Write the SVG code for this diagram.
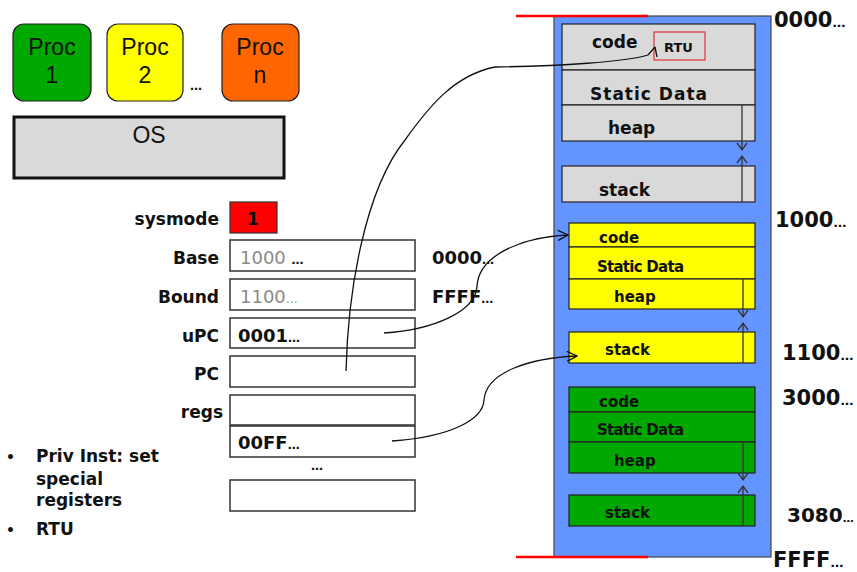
<svg xmlns="http://www.w3.org/2000/svg" width="857" height="572" viewBox="0 0 857 572">
  <defs>
    <style>
      .proc { stroke: #222; stroke-width: 1.2; }
      .ptxt { font-family: "Liberation Sans", Arial, sans-serif; font-size: 23px; fill: #111; text-anchor: middle; }
      .b { font-family: "DejaVu Sans", "Liberation Sans", sans-serif; font-weight: bold; fill: #111; }
      .lbl { font-size: 17px; text-anchor: end; }
      .reg { fill: #fff; stroke: #333; stroke-width: 1.5; }
      .seg { stroke: #222; stroke-width: 1.2; }
      .grey { fill: #d9d9d9; }
      .yel { fill: #ffff00; }
      .grn { fill: #00a800; }
      .addr { font-size: 21px; }
      .conn { fill: none; stroke: #111; stroke-width: 1.3; }
      .grow { stroke: #333; stroke-width: 1.3; fill: none; }
      .mtxt { font-size: 15px; }
      .stxt { font-size: 13px; }
      .dim { font-family: "DejaVu Sans", "Liberation Sans", sans-serif; font-size: 18px; fill: #8a8a8a; }
    </style>
    <marker id="open" viewBox="0 0 12 12" refX="11" refY="6" markerWidth="12" markerHeight="12" markerUnits="userSpaceOnUse" orient="auto">
      <polyline points="1,1 11,6 1,11" fill="none" stroke="#111" stroke-width="1.3"/>
    </marker>
  </defs>

  <rect width="857" height="572" fill="#fff"/>

  <!-- processes -->
  <g id="proc1">
    <rect class="proc" x="13" y="24" width="78" height="77" rx="11" fill="#00a800"/>
    <text class="ptxt" x="52" y="55">Proc</text>
    <text class="ptxt" x="52" y="83">1</text>
  </g>
  <g id="proc2">
    <rect class="proc" x="107" y="24" width="76" height="77" rx="11" fill="#ffff00"/>
    <text class="ptxt" x="145" y="55">Proc</text>
    <text class="ptxt" x="145" y="83">2</text>
  </g>
  <text class="b" x="190" y="90" font-size="12">…</text>
  <g id="procn">
    <rect class="proc" x="222" y="24" width="77" height="77" rx="11" fill="#ff6600"/>
    <text class="ptxt" x="260" y="55">Proc</text>
    <text class="ptxt" x="260" y="83">n</text>
  </g>
  <g id="os">
    <rect x="14" y="117" width="270" height="61" fill="#d9d9d9" stroke="#111" stroke-width="3"/>
    <text class="ptxt" x="149" y="143">OS</text>
  </g>

  <!-- special registers -->
  <g id="sysmode">
    <text class="b lbl" x="219" y="225">sysmode</text>
    <rect x="230" y="202" width="47" height="31" fill="#ff0000" stroke="#333" stroke-width="1.2"/>
    <text class="b" x="253" y="225" font-size="17" text-anchor="middle">1</text>
  </g>
  <g id="base">
    <text class="b lbl" x="219" y="264">Base</text>
    <rect class="reg" x="230" y="240" width="185" height="31"/>
    <text class="dim" x="240" y="264">1000 <tspan class="b" font-size="12">…</tspan></text>
    <text class="b" x="432" y="264" font-size="18">0000<tspan font-size="12">…</tspan></text>
  </g>
  <g id="bound">
    <text class="b lbl" x="219" y="303">Bound</text>
    <rect class="reg" x="230" y="279" width="185" height="31"/>
    <text class="dim" x="240" y="303">1100<tspan font-size="12">…</tspan></text>
    <text class="b" x="432" y="303" font-size="18">FFFF<tspan font-size="12">…</tspan></text>
  </g>
  <g id="upc">
    <text class="b lbl" x="219" y="342">uPC</text>
    <rect class="reg" x="230" y="318" width="185" height="30"/>
    <text class="b" x="238" y="342" font-size="18">0001<tspan font-size="12">…</tspan></text>
  </g>
  <g id="pc">
    <text class="b lbl" x="219" y="380">PC</text>
    <rect class="reg" x="230" y="356" width="185" height="31"/>
  </g>
  <g id="regs">
    <text class="b lbl" x="223" y="418">regs</text>
    <rect class="reg" x="230" y="395" width="185" height="30"/>
    <rect class="reg" x="230" y="426" width="185" height="31"/>
    <text class="b" x="238" y="449" font-size="18">00FF<tspan font-size="12">…</tspan></text>
    <text class="b" x="311" y="470" font-size="12">…</text>
    <rect class="reg" x="230" y="480" width="185" height="31"/>
  </g>

  <!-- notes -->
  <g id="notes">
    <text class="b" x="6" y="462" font-size="14">•</text>
    <text class="b" x="36" y="462" font-size="17">Priv Inst: set</text>
    <text class="b" x="36" y="485" font-size="17">special</text>
    <text class="b" x="36" y="506" font-size="17">registers</text>
    <text class="b" x="6" y="535" font-size="14">•</text>
    <text class="b" x="36" y="535" font-size="17">RTU</text>
  </g>

  <!-- physical memory -->
  <g id="memory">
    <rect x="554" y="16" width="217" height="541" fill="#6394ff" stroke="#444" stroke-width="1.2"/>
    <line x1="516" y1="16" x2="648" y2="16" stroke="#ff0000" stroke-width="2.5"/>
    <line x1="516" y1="557" x2="648" y2="557" stroke="#ff0000" stroke-width="2.5"/>
    <text class="b addr" x="774" y="27">0000<tspan font-size="13">…</tspan></text>
    <text class="b addr" x="775" y="227">1000<tspan font-size="13">…</tspan></text>
    <text class="b addr" x="782" y="360">1100<tspan font-size="13">…</tspan></text>
    <text class="b addr" x="782" y="405">3000<tspan font-size="13">…</tspan></text>
    <text class="b" x="787" y="522" font-size="20">3080<tspan font-size="11">…</tspan></text>
    <text class="b addr" x="773" y="567">FFFF<tspan font-size="13">…</tspan></text>
  </g>

  <!-- OS segments -->
  <g id="os-image">
    <rect class="seg grey" x="562" y="24" width="193" height="46"/>
    <rect class="seg grey" x="562" y="70" width="193" height="35"/>
    <rect class="seg grey" x="562" y="105" width="193" height="36"/>
    <rect class="seg grey" x="562" y="166" width="193" height="36"/>
    <text class="b" x="592" y="48" font-size="17">code</text>
    <rect x="654" y="32" width="51" height="28" fill="#d9d9d9" stroke="#e03030" stroke-width="1.2"/>
    <text class="b stxt" x="664" y="52">RTU</text>
    <text class="b" x="590" y="100" font-size="17" textLength="117">Static Data</text>
    <text class="b" x="608" y="134" font-size="17">heap</text>
    <text class="b" x="599" y="196" font-size="17">stack</text>
    <path class="grow" d="M742,105 V150 M737,143 L742,150 L747,143"/>
    <path class="grow" d="M742,202 V156 M737,163 L742,156 L747,163"/>
  </g>

  <!-- process 2 segments -->
  <g id="proc2-image">
    <rect class="seg yel" x="569" y="223" width="186" height="24"/>
    <rect class="seg yel" x="569" y="247" width="186" height="32"/>
    <rect class="seg yel" x="569" y="279" width="186" height="30"/>
    <rect class="seg yel" x="569" y="332" width="186" height="31"/>
    <text class="b mtxt" x="599" y="243">code</text>
    <text class="b mtxt" x="597" y="272" textLength="87">Static Data</text>
    <text class="b mtxt" x="614" y="302">heap</text>
    <text class="b mtxt" x="605" y="355">stack</text>
    <path class="grow" d="M743,279 V317 M738,310 L743,317 L748,310"/>
    <path class="grow" d="M743,363 V323 M738,330 L743,323 L748,330"/>
  </g>

  <!-- process 1 segments -->
  <g id="proc1-image">
    <rect class="seg grn" x="569" y="387" width="186" height="25"/>
    <rect class="seg grn" x="569" y="412" width="186" height="30"/>
    <rect class="seg grn" x="569" y="442" width="186" height="31"/>
    <rect class="seg grn" x="569" y="495" width="186" height="31"/>
    <text class="b mtxt" x="599" y="407">code</text>
    <text class="b mtxt" x="597" y="435" textLength="87">Static Data</text>
    <text class="b mtxt" x="614" y="466">heap</text>
    <text class="b mtxt" x="605" y="518">stack</text>
    <path class="grow" d="M743,442 V480 M738,473 L743,480 L748,473"/>
    <path class="grow" d="M743,526 V486 M738,493 L743,486 L748,493"/>
  </g>

  <!-- connectors -->
  <g id="connectors">
    <path class="conn" d="M346,371 C348,290 365,190 405,140 C430,105 455,75 495,67 C560,66 625,62 648,55 L655,47 M655,47 L657,57"/>
    <path class="conn" marker-end="url(#open)" d="M384,333 C432,330 476,312 477,286 C479,255 522,237 568,235"/>
    <path class="conn" marker-end="url(#open)" d="M392,441 C450,437 483,420 484,400 C486,372 530,358 577,356"/>
  </g>
</svg>
